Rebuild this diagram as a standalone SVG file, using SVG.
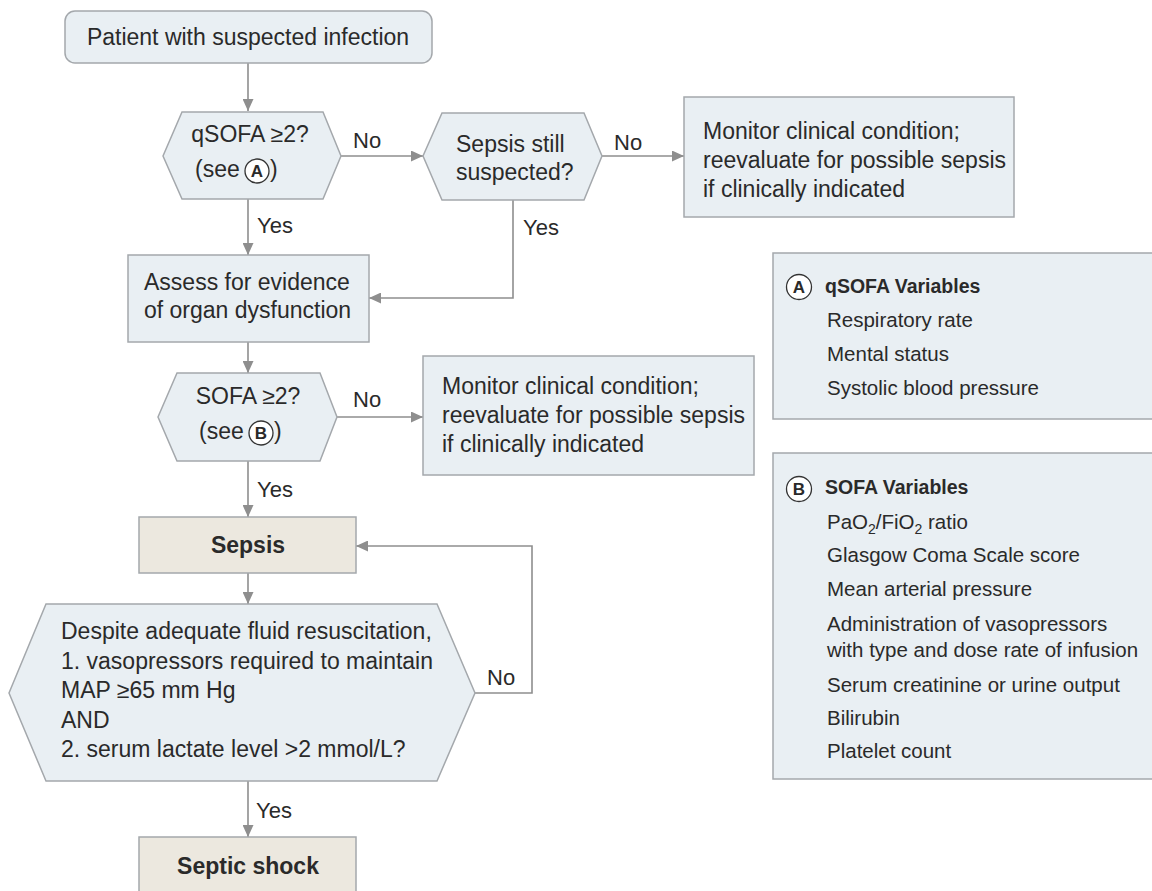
<svg xmlns="http://www.w3.org/2000/svg" width="1152" height="891" viewBox="0 0 1152 891">
<defs>
<style>
text{font-family:"Liberation Sans",Arial,sans-serif;fill:#2a2a2a}
.t{font-size:23px}
.lb{font-size:22px}
.b{font-weight:bold}
.bx{fill:#e9eff3;stroke:#a4a8ac;stroke-width:1.5}
.tan{fill:#ece8df;stroke:#a4a8ac;stroke-width:1.5}
.cn{fill:none;stroke:#8e8e8e;stroke-width:1.6}
.ci{fill:#ffffff;stroke:#333;stroke-width:1.3}
.s{font-size:20.5px}
.h{font-size:19.5px;font-weight:bold}
</style>
<marker id="ah" markerUnits="userSpaceOnUse" markerWidth="13" markerHeight="11" refX="12" refY="5.5" orient="auto">
<path d="M0,0 L12,5.5 L0,11 Z" fill="#8e8e8e"/>
</marker>
</defs>
<rect width="1152" height="891" fill="#ffffff"/>

<g id="connectors">
<line class="cn" x1="248" y1="63" x2="248" y2="111" marker-end="url(#ah)"/>
<line class="cn" x1="341" y1="156" x2="423" y2="156" marker-end="url(#ah)"/>
<line class="cn" x1="602" y1="156" x2="684" y2="156" marker-end="url(#ah)"/>
<line class="cn" x1="248" y1="199" x2="248" y2="255" marker-end="url(#ah)"/>
<polyline class="cn" points="513,200 513,298 369,298" marker-end="url(#ah)"/>
<line class="cn" x1="248" y1="342" x2="248" y2="373" marker-end="url(#ah)"/>
<line class="cn" x1="337" y1="417" x2="423" y2="417" marker-end="url(#ah)"/>
<line class="cn" x1="248" y1="461" x2="248" y2="517" marker-end="url(#ah)"/>
<line class="cn" x1="248" y1="573" x2="248" y2="604" marker-end="url(#ah)"/>
<polyline class="cn" points="475,693 532,693 532,546 356,546" marker-end="url(#ah)"/>
<line class="cn" x1="248" y1="781" x2="248" y2="837" marker-end="url(#ah)"/>
<text class="lb" x="353" y="148">No</text>
<text class="lb" x="614" y="150">No</text>
<text class="lb" x="257" y="233">Yes</text>
<text class="lb" x="523" y="235">Yes</text>
<text class="lb" x="353" y="407">No</text>
<text class="lb" x="257" y="497">Yes</text>
<text class="lb" x="487" y="685">No</text>
<text class="lb" x="256" y="818">Yes</text>
</g>

<g id="start">
<rect class="bx" x="65" y="11" width="367" height="52" rx="10"/>
<text class="t" x="248" y="45" text-anchor="middle">Patient with suspected infection</text>
</g>

<g id="qsofa">
<polygon class="bx" points="163,156 182,112 323,112 341,156 323,199 182,199"/>
<text class="t" x="250" y="142" text-anchor="middle">qSOFA ≥2?</text>
<text class="t" x="195" y="177">(see</text>
<circle class="ci" cx="257" cy="171" r="12"/>
<text class="b" x="257" y="177" text-anchor="middle" font-size="17">A</text>
<text class="t" x="270" y="177">)</text>
</g>

<g id="still">
<polygon class="bx" points="423,156 442,113 584,113 602,156 584,200 442,200"/>
<text class="t" x="456" y="152">Sepsis still</text>
<text class="t" x="456" y="180">suspected?</text>
</g>

<g id="monitor1">
<rect class="bx" x="684" y="97" width="330" height="120"/>
<text class="t" x="703" y="139">Monitor clinical condition;</text>
<text class="t" x="703" y="168">reevaluate for possible sepsis</text>
<text class="t" x="703" y="197">if clinically indicated</text>
</g>

<g id="assess">
<rect class="bx" x="128" y="255" width="241" height="87"/>
<text class="t" x="144" y="290">Assess for evidence</text>
<text class="t" x="144" y="318">of organ dysfunction</text>
</g>

<g id="sofa">
<polygon class="bx" points="158,417 177,373 320,373 337,417 320,461 177,461"/>
<text class="t" x="248" y="404" text-anchor="middle">SOFA ≥2?</text>
<text class="t" x="199" y="439">(see</text>
<circle class="ci" cx="261" cy="433" r="12"/>
<text class="b" x="261" y="439" text-anchor="middle" font-size="17">B</text>
<text class="t" x="274" y="439">)</text>
</g>

<g id="monitor2">
<rect class="bx" x="423" y="356" width="331" height="119"/>
<text class="t" x="442" y="394">Monitor clinical condition;</text>
<text class="t" x="442" y="423">reevaluate for possible sepsis</text>
<text class="t" x="442" y="452">if clinically indicated</text>
</g>

<g id="sepsis">
<rect class="tan" x="139" y="517" width="217" height="56"/>
<text class="t b" x="248" y="553" text-anchor="middle">Sepsis</text>
</g>

<g id="shockq">
<polygon class="bx" points="9,693 46,604 437,604 475,693 437,781 46,781"/>
<text class="t" x="61" y="639">Despite adequate fluid resuscitation,</text>
<text class="t" x="61" y="668.5">1. vasopressors required to maintain</text>
<text class="t" x="61" y="698">MAP ≥65 mm Hg</text>
<text class="t" x="61" y="727.5">AND</text>
<text class="t" x="61" y="757">2. serum lactate level &gt;2 mmol/L?</text>
</g>

<g id="shock">
<rect class="tan" x="139" y="837" width="217" height="70"/>
<text class="t b" x="248" y="874" text-anchor="middle">Septic shock</text>
</g>

<g id="boxA">
<rect class="bx" x="773" y="253" width="400" height="166"/>
<circle class="ci" cx="799" cy="287" r="12.5"/>
<text class="b" x="799" y="293" text-anchor="middle" font-size="17">A</text>
<text class="h" x="825" y="293">qSOFA Variables</text>
<text class="s" x="827" y="327">Respiratory rate</text>
<text class="s" x="827" y="361">Mental status</text>
<text class="s" x="827" y="395">Systolic blood pressure</text>
</g>

<g id="boxB">
<rect class="bx" x="773" y="453" width="400" height="326"/>
<circle class="ci" cx="799" cy="489" r="12.5"/>
<text class="b" x="799" y="495" text-anchor="middle" font-size="17">B</text>
<text class="h" x="825" y="494">SOFA Variables</text>
<text class="s" x="827" y="529">PaO<tspan font-size="14" dy="5">2</tspan><tspan dy="-5">/FiO</tspan><tspan font-size="14" dy="5">2</tspan><tspan dy="-5"> ratio</tspan></text>
<text class="s" x="827" y="562">Glasgow Coma Scale score</text>
<text class="s" x="827" y="596">Mean arterial pressure</text>
<text class="s" x="827" y="631">Administration of vasopressors</text>
<text class="s" x="827" y="657">with type and dose rate of infusion</text>
<text class="s" x="827" y="692">Serum creatinine or urine output</text>
<text class="s" x="827" y="725">Bilirubin</text>
<text class="s" x="827" y="758">Platelet count</text>
</g>
</svg>
